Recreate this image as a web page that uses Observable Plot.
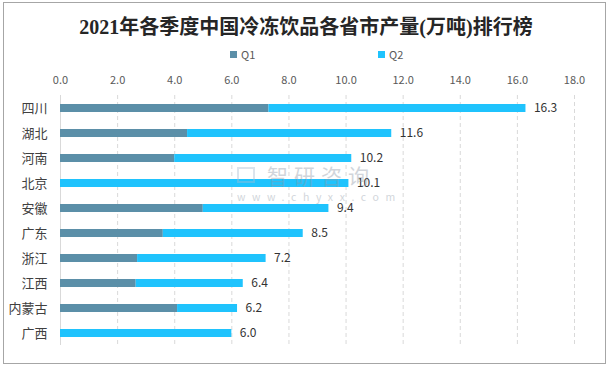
<!DOCTYPE html>
<html>
<head>
<meta charset="utf-8">
<script src="https://cdn.jsdelivr.net/npm/d3@7"></script>
<script src="https://cdn.jsdelivr.net/npm/@observablehq/plot@0.6"></script>
<style>
  html, body { margin: 0; padding: 0; background: #fff; }
  #wrap { position: relative; width: 612px; height: 369px; font-family: "Noto Sans CJK SC", "Noto Sans", sans-serif; }
  #frame { position: absolute; left: 3px; top: 2px; width: 603px; height: 362px; border: 1px solid #a6a6a6; box-sizing: border-box; }
  #title { position: absolute; left: 0; width: 612px; top: 11px; text-align: center; font-size: 20px; font-weight: bold; color: #262626; font-family: "Liberation Serif", "Noto Sans CJK SC", serif; }
  .leg { position: absolute; top: 46px; font-size: 11px; color: #595959; display: flex; align-items: center; }
  .leg span.sw { display: inline-block; width: 7px; height: 7px; margin-right: 4px; }
  #wm { position: absolute; left: 237px; top: 163px; color: #8e99a6; opacity: 0.4; pointer-events: none; }
  #wm .row { display: flex; align-items: center; }
  #wm .icon { width: 18px; height: 16px; border: 2px solid #a9bcd2; box-sizing: border-box; margin-right: 12px; }
  #wm .big { font-size: 21px; letter-spacing: 6px; line-height: 24px; }
  #wm .small { font-size: 10.5px; letter-spacing: 6.6px; margin-top: 2px; }
  svg { position: absolute; left: 0; top: 0; }
</style>
</head>
<body>
<div id="wrap">
  <div id="frame"></div>
  <div id="title">2021年各季度中国冷冻饮品各省市产量(万吨)排行榜</div>
  <div id="legend"></div>
  <div id="chart"></div>
  <div id="wm"><div class="row"><div class="icon"></div><div class="big">智研咨询</div></div><div class="small">www.chyxx.com</div></div>
</div>
<script>
const provinces = ["四川", "湖北", "河南", "北京", "安徽", "广东", "浙江", "江西", "内蒙古", "广西"];
const totals = [16.3, 11.6, 10.2, 10.1, 9.4, 8.5, 7.2, 6.4, 6.2, 6.0];
const q1 = [7.3, 4.45, 4.0, 0, 5.0, 3.6, 2.7, 2.65, 4.1, 0];
const q2 = [9.0, 7.15, 6.2, 10.1, 4.4, 4.9, 4.5, 3.75, 2.1, 6.0];
const quarters = ["Q1", "Q2"];
const colors = ["#5b8fa8", "#1fc3fd"];
const xTicks = [0, 2, 4, 6, 8, 10, 12, 14, 16, 18];

const long = [];
provinces.forEach((p, i) => {
  long.push({province: p, quarter: "Q1", value: q1[i]});
  long.push({province: p, quarter: "Q2", value: q2[i]});
});
const labels = provinces.map((p, i) => ({province: p, total: totals[i]}));

// legend
const legend = document.getElementById("legend");
const legX = [230, 378];
quarters.forEach((q, i) => {
  const d = document.createElement("div");
  d.className = "leg";
  d.style.left = legX[i] + "px";
  d.innerHTML = `<span class="sw" style="background:${colors[i]}"></span>${q}`;
  legend.appendChild(d);
});

const chart = Plot.plot({
  width: 612,
  height: 369,
  marginLeft: 60,
  marginRight: 38,
  marginTop: 95,
  marginBottom: 24,
  style: {background: "transparent", fontFamily: "'Noto Sans CJK SC', 'Noto Sans', sans-serif"},
  x: {domain: [0, 18]},
  y: {domain: provinces, paddingInner: 0.68, paddingOuter: 0.34},
  color: {domain: quarters, range: colors},
  marks: [
    Plot.gridX(xTicks, {stroke: "#d9d9d9", strokeOpacity: 1, strokeDasharray: "4,3"}),
    Plot.ruleX([0], {stroke: "#d9d9d9"}),
    Plot.axisX({anchor: "top", ticks: xTicks, tickSize: 0, tickPadding: 12, tickFormat: d => d.toFixed(1), fontSize: 11, fill: "#595959", label: null}),
    Plot.axisY({tickSize: 0, tickPadding: 13, fontSize: 13, fill: "#404040", label: null}),
    Plot.barX(long, Plot.stackX({x: "value", y: "province", fill: "quarter", order: null})),
    Plot.text(labels, {x: "total", y: "province", text: d => d.total.toFixed(1), dx: 8, textAnchor: "start", fontSize: 12, fill: "#333"})
  ]
});
document.getElementById("chart").appendChild(chart);
</script>
</body>
</html>
